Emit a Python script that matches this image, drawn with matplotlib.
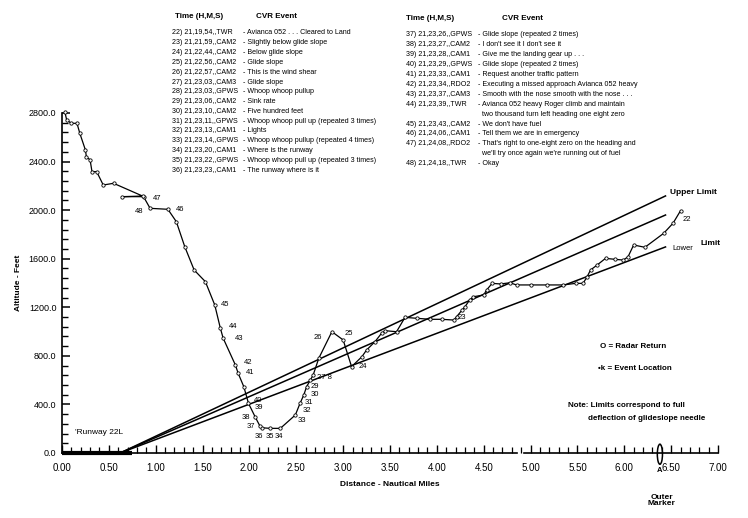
import matplotlib
matplotlib.use("Agg")
import matplotlib.pyplot as plt
from matplotlib.patches import Ellipse
from matplotlib.ticker import MultipleLocator, FormatStrFormatter

plt.rcParams['font.family'] = ['Liberation Sans', 'DejaVu Sans']

# ---------------- data ----------------
track_nm = [6.60, 6.52, 6.42, 6.22, 6.10, 6.04, 5.99, 5.90, 5.80, 5.71, 5.64, 5.60, 5.56, 5.48,
            5.35, 5.17, 5.00, 4.85, 4.78, 4.68, 4.59, 4.53, 4.50, 4.39, 4.35, 4.30, 4.27, 4.21,
            4.18, 4.05, 3.93, 3.79, 3.66, 3.57, 3.45, 3.41, 3.34, 3.25, 3.20, 3.09, 3.00, 2.88,
            2.74, 2.68, 2.65, 2.61, 2.58, 2.54, 2.49, 2.33, 2.22, 2.13, 2.11, 2.06, 1.99, 1.94,
            1.88, 1.85, 1.72, 1.69, 1.63, 1.53, 1.41, 1.31, 1.22, 1.13, 0.94, 0.87, 0.64, 0.86,
            0.55, 0.44, 0.37, 0.32, 0.30, 0.26, 0.25, 0.19, 0.16, 0.10, 0.05, 0.03]
track_ft = [1995, 1892, 1809, 1694, 1713, 1616, 1589, 1595, 1603, 1548, 1507, 1447, 1397, 1397,
            1384, 1384, 1384, 1384, 1402, 1392, 1397, 1342, 1301, 1287, 1260, 1205, 1178, 1122,
            1095, 1101, 1101, 1109, 1117, 999, 1007, 986, 917, 848, 793, 711, 931, 999,
            780, 642, 601, 546, 478, 409, 313, 203, 203, 208, 225, 299, 409, 546,
            656, 725, 945, 1027, 1219, 1411, 1507, 1699, 1905, 2007, 2015, 2111, 2111, 2116,
            2221, 2207, 2317, 2317, 2413, 2440, 2495, 2633, 2715, 2715, 2742, 2811]

gs_nm = [0.62, 6.44]
upper_ft = [0, 2117]
center_ft = [0, 1960]
lower_ft = [0, 1697]

event_ids = ["22", "23", "24", "25", "26", "27 8", "29", "30", "31", "32", "33", "34", "35",
             "36", "37", "38", "39", "40", "41", "42", "43", "44", "45", "46", "47", "48"]
event_nm = [6.62, 4.22, 3.17, 3.02, 2.68, 2.72, 2.65, 2.65, 2.59, 2.57, 2.51, 2.27, 2.17,
            2.06, 1.97, 1.92, 2.06, 2.05, 1.96, 1.94, 1.84, 1.78, 1.69, 1.21, 0.97, 0.78]
event_ft = [1919, 1112, 716, 988, 955, 618, 544, 478, 412, 346, 264, 140, 140,
            140, 222, 296, 371, 436, 659, 749, 947, 1038, 1227, 2009, 2092, 1985]

runway_nm = [0.0, 0.75]
outer_marker_nm = 6.38

left_times = ["22) 21,19,54,,TWR", "23) 21,21,59,,CAM2", "24) 21,22,44,,CAM2", "25) 21,22,56,,CAM2",
              "26) 21,22,57,,CAM2", "27) 21,23,03,,CAM3", "28) 21,23,03,,GPWS", "29) 21,23,06,,CAM2",
              "30) 21,23,10,,CAM2", "31) 21,23,11,,GPWS", "32) 21,23,13,,CAM1", "33) 21,23,14,,GPWS",
              "34) 21,23,20,,CAM1", "35) 21,23,22,,GPWS", "36) 21,23,23,,CAM1"]
left_events = ["- Avianca 052 . . . Cleared to Land", "- Slightly below glide slope",
               "- Below glide slope", "- Glide slope", "- This is the wind shear", "- Glide slope",
               "- Whoop whoop pullup", "- Sink rate", "- Five hundred feet",
               "- Whoop whoop pull up (repeated 3 times)", "- Lights",
               "- Whoop whoop pullup (repeated 4 times)", "- Where is the runway",
               "- Whoop whoop pull up (repeated 3 times)", "- The runway where is it"]
right_times = ["37) 21,23,26,,GPWS", "38) 21,23,27,,CAM2", "39) 21,23,28,,CAM1", "40) 21,23,29,,GPWS",
               "41) 21,23,33,,CAM1", "42) 21,23,34,,RDO2", "43) 21,23,37,,CAM3", "44) 21,23,39,,TWR",
               "", "45) 21,23,43,,CAM2", "46) 21,24,06,,CAM1", "47) 21,24,08,,RDO2", "",
               "48) 21,24,18,,TWR"]
right_events = ["- Glide slope (repeated 2 times)", "- I don't see it I don't see it",
                "- Give me the landing gear up . . .", "- Glide slope (repeated 2 times)",
                "- Request another traffic pattern",
                "- Executing a missed approach Avianca 052 heavy",
                "- Smooth with the nose smooth with the nose . . .",
                "- Avianca 052 heavy Roger climb and maintain",
                "  two thousand turn left heading one eight zero",
                "- We don't have fuel", "- Tell them we are in emergency",
                "- That's right to one-eight zero on the heading and",
                "  we'll try once again we're running out of fuel", "- Okay"]

# ---------------- figure ----------------
W, H = 748, 518
fig = plt.figure(figsize=(W / 100, H / 100), dpi=100)
ax = fig.add_axes([62 / W, 65 / H, 656 / W, 340 / H])
ax.set_xlim(0, 7)
ax.set_ylim(0, 2800)

for s in ["top", "right", "bottom"]:
    ax.spines[s].set_visible(False)
ax.spines["left"].set_linewidth(1.2)
# broken x axis line
ax.plot([0, 4.85], [0, 0], color="black", lw=1.2, clip_on=False)
ax.plot([4.93, 7.0], [0, 0], color="black", lw=1.2, clip_on=False)

ax.xaxis.set_major_locator(MultipleLocator(0.5))
ax.xaxis.set_minor_locator(MultipleLocator(0.1))
ax.yaxis.set_major_locator(MultipleLocator(400))
ax.yaxis.set_minor_locator(MultipleLocator(80))
ax.xaxis.set_major_formatter(FormatStrFormatter("%.2f"))
ax.yaxis.set_major_formatter(FormatStrFormatter("%.1f"))
ax.tick_params(axis="x", which="major", direction="in", length=6, width=1, pad=7, labelsize=7)
ax.tick_params(axis="x", which="minor", direction="in", length=4, width=0.9)
ax.tick_params(axis="y", which="major", direction="in", length=6, width=1.1, pad=4, labelsize=6.5)
ax.tick_params(axis="y", which="minor", direction="in", length=4, width=1)

ax.set_xlabel("Distance - Nautical Miles", fontsize=6, fontweight="bold", labelpad=6)
ax.set_ylabel("Altitude - Feet", fontsize=6, fontweight="bold", labelpad=5)

# glideslope limits
for ys in (upper_ft, center_ft, lower_ft):
    ax.plot(gs_nm, ys, color="black", lw=1.1)

# runway
ax.plot(runway_nm, [0, 0], color="black", lw=3, solid_capstyle="butt", clip_on=False)

# flight track
ax.plot(track_nm, track_ft, color="black", lw=0.9, marker="o", ms=2.4, mfc="white",
        mec="black", mew=0.6, clip_on=False)

for lab, xx, yy in zip(event_ids, event_nm, event_ft):
    ax.text(xx, yy, lab, fontsize=5.5, ha="left", va="center")

ax.text(6.49, 2149, "Upper Limit", fontsize=6, fontweight="bold", ha="left", va="center")
ax.text(6.51, 1688, "Lower", fontsize=5.5, ha="left", va="center")
ax.text(6.81, 1729, "Limit", fontsize=6, fontweight="bold", ha="left", va="center")
ax.text(0.14, 165, "'Runway 22L", fontsize=6, ha="left", va="center")

ax.text(5.74, 880, "O = Radar Return", fontsize=5.8, fontweight="bold", ha="left", va="center")
ax.text(5.72, 692, "\u2022k = Event Location", fontsize=5.8, fontweight="bold", ha="left", va="center")
ax.text(5.40, 395, "Note: Limits correspond to full", fontsize=5.8, fontweight="bold",
        ha="left", va="center")
ax.text(5.61, 288, "deflection of glideslope needle", fontsize=5.8, fontweight="bold",
        ha="left", va="center")

# outer marker
ax.add_patch(Ellipse((outer_marker_nm, -10), width=0.055, height=165, fill=False,
                     ec="black", lw=1.1, clip_on=False))
ax.text(outer_marker_nm, -140, "A", fontsize=5.5, fontweight="bold", ha="center", va="center")
ax.text(outer_marker_nm + 0.02, -390, "Outer\nMarker", fontsize=6, fontweight="bold",
        ha="center", va="center", linespacing=0.9)

# tables
def fx(px):
    return px / W

def fy(py):
    return 1 - py / H

fig.text(fx(199), fy(16), "Time (H,M,S)", fontsize=5.8, fontweight="bold", ha="center", va="center")
fig.text(fx(277), fy(16), "CVR Event", fontsize=5.8, fontweight="bold", ha="center", va="center")
for i, (t, e) in enumerate(zip(left_times, left_events)):
    yy = 33 + 9.8 * i
    fig.text(fx(172), fy(yy), t, fontsize=5.1, ha="left", va="center")
    fig.text(fx(243), fy(yy), e, fontsize=5.1, ha="left", va="center")

fig.text(fx(430), fy(18), "Time (H,M,S)", fontsize=5.8, fontweight="bold", ha="center", va="center")
fig.text(fx(522), fy(18), "CVR Event", fontsize=5.8, fontweight="bold", ha="center", va="center")
for j, (t, e) in enumerate(zip(right_times, right_events)):
    yy = 35 + 9.9 * j
    if t:
        fig.text(fx(406), fy(yy), t, fontsize=5.1, ha="left", va="center")
    fig.text(fx(478), fy(yy), e, fontsize=5.1, ha="left", va="center")

fig.savefig("out.png", dpi=100)
